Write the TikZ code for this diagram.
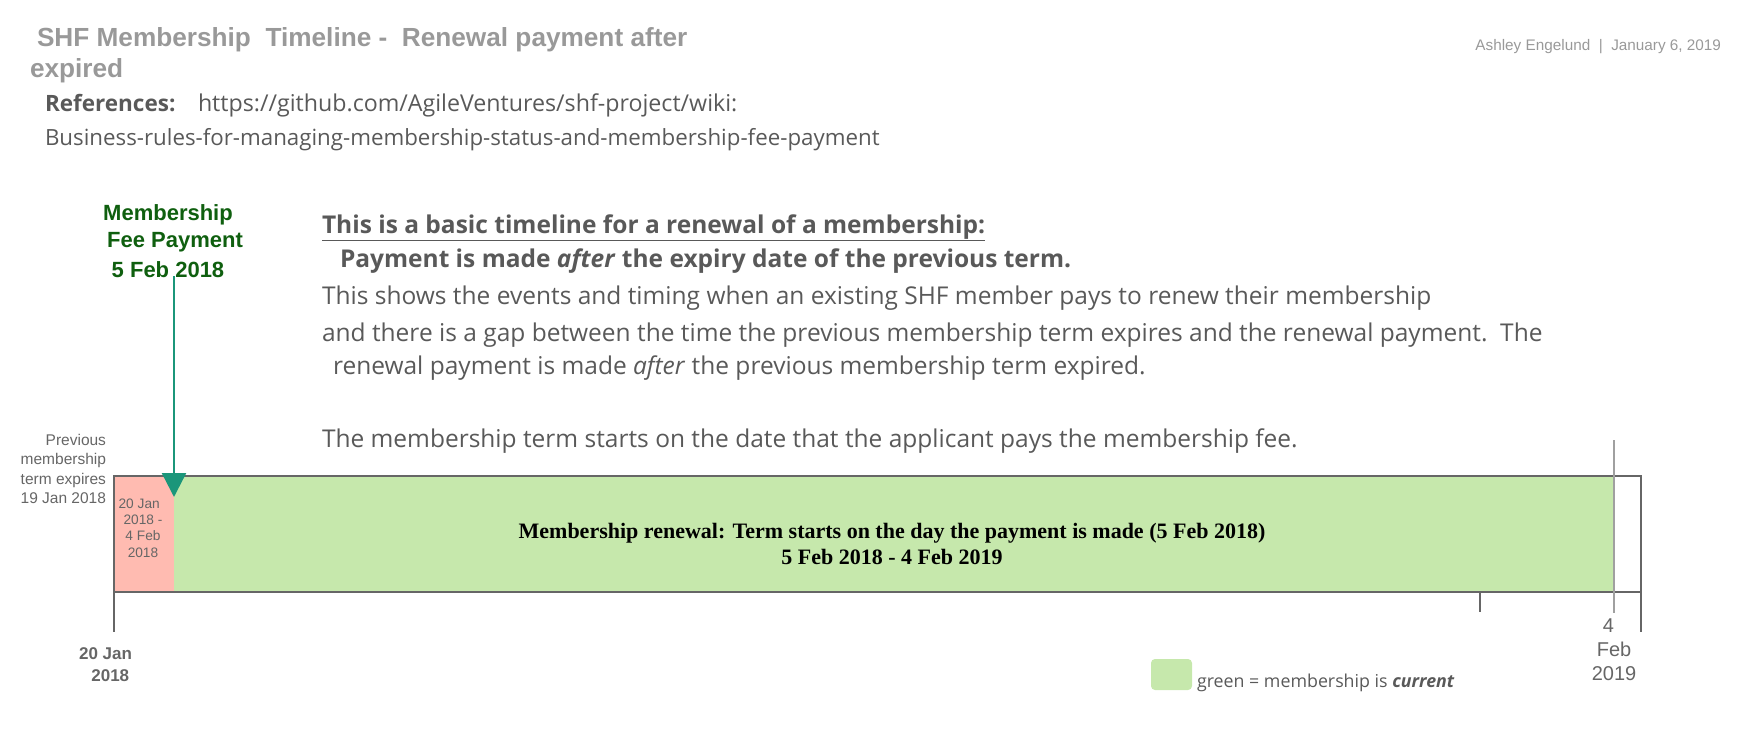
\documentclass[tikz,border=0pt]{standalone}
\usepackage{fontspec}
\usetikzlibrary{arrows.meta}
\newfontfamily\osans{Open Sans}
\newfontfamily\lsans{Liberation Sans}
\newfontfamily\lserif{Liberation Serif}
\definecolor{titlegrey}{HTML}{999999}
\definecolor{textgrey}{HTML}{595959}
\definecolor{linegrey}{HTML}{666666}
\definecolor{thingrey}{HTML}{A0A0A0}
\definecolor{pinkc}{HTML}{FFBBB1}
\definecolor{greenc}{HTML}{C6E8AC}
\definecolor{tealc}{HTML}{1B967A}
\definecolor{dgreen}{HTML}{0F5F0F}
\newcommand{\fs}[1]{\fontsize{#1}{#1}\selectfont}
\begin{document}
\begin{tikzpicture}[x=1pt,y=-1pt,
  every node/.style={inner sep=0pt,outer sep=0pt},
  txt/.style={anchor=base west,text=textgrey,font=\osans\fs{24.5}},
  reftxt/.style={anchor=base west,text=textgrey,font=\osans\fs{22.5}},
  paylbl/.style={anchor=base,text=dgreen,font=\lsans\bfseries\fs{22}},
  small/.style={text=linegrey,font=\lsans\fs{15.5},align=right},
  axis/.style={draw=linegrey,line width=2pt},
]
\useasboundingbox (0,0) rectangle (1760,729);
% title
\node[anchor=base west,text=titlegrey,font=\lsans\bfseries\fs{26.2}] (t1) at (37,46) {SHF Membership\ \ Timeline -\ \ Renewal payment after};
\node[anchor=base west,text=titlegrey,font=\lsans\bfseries\fs{26.2}] (t2) at (30,77) {expired};
\node[anchor=base east,text=titlegrey,font=\lsans\fs{15.3}] (author) at (1721,50) {Ashley Engelund\ \ |\ \ January 6, 2019};
\node[reftxt] (ref) at (45,111) {\bfseries References:};
\node[reftxt,font=\osans\fs{23.2}] (url1) at (198,111) {https://github.com/AgileVentures/shf-project/wiki:};
\node[reftxt,font=\osans\fs{22.3}] (url2) at (45,145) {Business-rules-for-managing-membership-status-and-membership-fee-payment};
% description
\node[txt] (d1) at (322,233) {\bfseries\underline{This is a basic timeline for a renewal of a membership:}};
\node[txt] (d2) at (340,267) {\bfseries Payment is made \textit{after} the expiry date of the previous term.};
\node[txt] (d3) at (322,304) {This shows the events and timing when an existing SHF member pays to renew their membership};
\node[txt] (d4) at (322,341) {and there is a gap between the time the previous membership term expires and the renewal payment.\ \ The};
\node[txt] (d5) at (333,374) {renewal payment is made \textit{after} the previous membership term expired.};
\node[txt] (d6) at (322,447) {The membership term starts on the date that the applicant pays the membership fee.};
% payment label
\node[paylbl] (pay1) at (168,220) {Membership};
\node[paylbl] (pay2) at (175,247) {Fee Payment};
\node[paylbl] (pay3) at (168,277) {5 Feb 2018};
% timeline box
\node[fill=pinkc,minimum width=60pt,minimum height=116pt,anchor=north west] (gap) at (114,476) {};
\node[fill=greenc,minimum width=1440pt,minimum height=116pt,anchor=north west] (term) at (174,476) {};
\draw[linegrey,line width=2pt] (gap.north west) rectangle (1641,592);
\coordinate (endtop) at (1614,440);
\coordinate (endbot) at (1614,613);
\draw[thingrey,line width=1.3pt] (endtop) -- (endbot);
\node[text=linegrey,font=\lsans\fs{13.7},align=center] (gaptxt) at (143,528) {20 Jan\ \ \ \\[2.5pt]2018 -\\[2.5pt]4 Feb\\[2.5pt]2018};
\node[font=\lserif\bfseries\fs{22},align=center] (termtxt) at (892,544) {Membership renewal: Term starts on the day the payment is made (5 Feb 2018)\\[4pt]5 Feb 2018 - 4 Feb 2019};
% arrow
\coordinate (paystart) at (174,276);
\coordinate (paytip) at (174,497);
\draw[tealc,line width=2.5pt,-{Triangle[width=24pt,length=24pt]}] (paystart) -- (paytip);
% axis ticks
\draw[axis] (114,592) -- (114,632);
\draw[axis] (1480,592) -- (1480,612);
\draw[axis] (1641,592) -- (1641,632);
% labels
\node[small,anchor=north east] (prev) at (106,434) {Previous\\[4pt]membership\\[4pt]term expires\\[4pt]19 Jan 2018};
\node[text=linegrey,font=\lsans\bfseries\fs{17},align=right,anchor=north east] (start) at (132,648) {20 Jan\\[5pt]2018\,};
\node[text=linegrey,font=\lsans\fs{20},align=center,anchor=north] (end) at (1614,619) {4\ \ \ \\[4pt]Feb\\[4pt]2019};
% legend
\node[fill=greenc,rounded corners=4pt,minimum width=41pt,minimum height=31pt,anchor=north west] (legbox) at (1151,659) {};
\node[anchor=base west,text=textgrey,font=\osans\fs{17.8}] (legtxt) at (1197,687) {green = membership is \textbf{\textit{current}}};
\end{tikzpicture}
\end{document}
